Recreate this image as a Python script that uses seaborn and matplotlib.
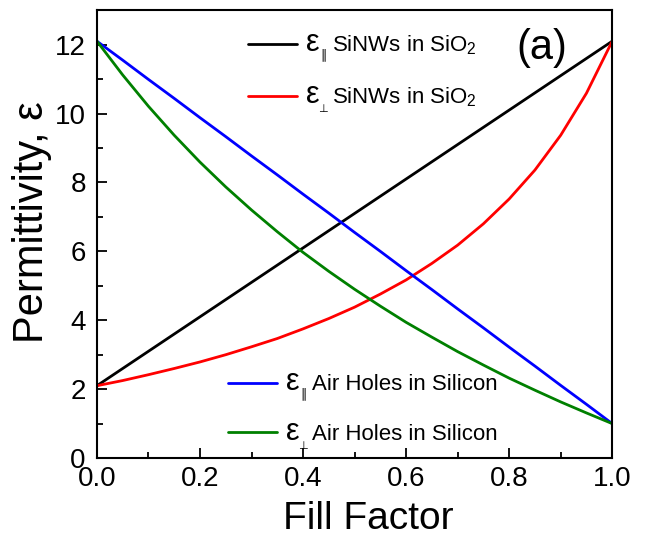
import numpy as np
import pandas as pd
import matplotlib
matplotlib.use("Agg")
import matplotlib.pyplot as plt
import seaborn as sns
from matplotlib.ticker import MultipleLocator, FormatStrFormatter

fill = [0.00, 0.05, 0.10, 0.15, 0.20, 0.25, 0.30, 0.35, 0.40, 0.45, 0.50,
        0.55, 0.60, 0.65, 0.70, 0.75, 0.80, 0.85, 0.90, 0.95, 1.00]
eps_par_nw = [2.10, 2.60, 3.10, 3.60, 4.10, 4.60, 5.10, 5.60, 6.10, 6.60, 7.10,
              7.60, 8.10, 8.60, 9.10, 9.60, 10.10, 10.60, 11.10, 11.60, 12.10]
eps_perp_nw = [2.10, 2.25, 2.42, 2.60, 2.79, 3.00, 3.23, 3.47, 3.75, 4.05, 4.38,
               4.76, 5.17, 5.65, 6.18, 6.80, 7.52, 8.36, 9.37, 10.59, 12.10]
eps_par_ah = [12.10, 11.55, 10.99, 10.44, 9.88, 9.33, 8.77, 8.22, 7.66, 7.11, 6.55,
              6.00, 5.44, 4.89, 4.33, 3.78, 3.22, 2.67, 2.11, 1.56, 1.00]
eps_perp_ah = [12.10, 11.12, 10.21, 9.37, 8.59, 7.87, 7.20, 6.57, 5.97, 5.42, 4.90,
               4.41, 3.94, 3.51, 3.09, 2.70, 2.32, 1.97, 1.63, 1.31, 1.00]

eps_subs = ["∥", "⊥", "∥", "⊥"]
labels = [r"SiNWs in SiO$_2$", r"SiNWs in SiO$_2$",
          "Air Holes in Silicon", "Air Holes in Silicon"]
colors = ["black", "red", "blue", "green"]

sns.set_style("ticks")
plt.rcParams["font.family"] = ["Liberation Sans", "DejaVu Sans"]
plt.rcParams["mathtext.fontset"] = "custom"
plt.rcParams["mathtext.rm"] = "Liberation Sans"
plt.rcParams["mathtext.it"] = "Liberation Sans"
plt.rcParams["text.color"] = "black"
plt.rcParams["axes.labelcolor"] = "black"
plt.rcParams["xtick.color"] = "black"
plt.rcParams["ytick.color"] = "black"

fig = plt.figure(figsize=(6.64, 5.37), dpi=100)
ax = fig.add_axes([0.146, 0.147, 0.776, 0.834])

series = [eps_par_nw, eps_perp_nw, eps_par_ah, eps_perp_ah]
for vals, lab, col in zip(series, labels, colors):
    df = pd.DataFrame({"f": fill, "e": vals})
    sns.lineplot(data=df, x="f", y="e", ax=ax, color=col, lw=2.0, label=lab)
handles, labs = ax.get_legend_handles_labels()
if ax.get_legend():
    ax.get_legend().remove()

kw = dict(frameon=False, fontsize=16, handlelength=2.2, labelspacing=1.27,
          handletextpad=1.6, borderaxespad=0, borderpad=0)
leg1 = ax.legend(handles[:2], labs[:2], loc="upper left",
                 bbox_to_anchor=(0.293, 0.948), **kw)
ax.add_artist(leg1)
leg2 = ax.legend(handles[2:], labs[2:], loc="lower left",
                 bbox_to_anchor=(0.254, 0.03), **kw)

ax.set_xlim(0, 1.0)
ax.set_ylim(0, 13)
ax.xaxis.set_major_locator(MultipleLocator(0.2))
ax.xaxis.set_minor_locator(MultipleLocator(0.1))
ax.yaxis.set_major_locator(MultipleLocator(2))
ax.yaxis.set_minor_locator(MultipleLocator(1))
ax.xaxis.set_major_formatter(FormatStrFormatter("%.1f"))
ax.tick_params(which="major", direction="in", length=7, width=1.3, labelsize=20)
ax.tick_params(axis="y", which="major", pad=8)
ax.tick_params(axis="x", which="major", pad=6)
ax.tick_params(which="minor", direction="in", length=4, width=1.3)
for s in ax.spines.values():
    s.set_linewidth(1.5)
    s.set_color("black")

ax.set_xlabel("Fill Factor", fontsize=28)
ax.set_ylabel("Permittivity, ε", fontsize=30)
ax.xaxis.set_label_coords(0.526, -0.096)
ax.yaxis.set_label_coords(-0.088, 0.527)
ax.text(0.864, 0.915, "(a)", transform=ax.transAxes, fontsize=30,
        ha="center", va="center")

# epsilon symbols with small subscripts in front of legend labels
fig.canvas.draw()
texts = list(leg1.get_texts()) + list(leg2.get_texts())
for t, sub in zip(texts, eps_subs):
    x0, y0 = t.get_transform().transform(t.get_position())
    fig.text(x0 - 13, y0, "ε", transform=None, fontsize=22,
             ha="right", va="baseline")
    if sub == "∥":
        fig.text(x0 - 12, y0 - 7, sub, transform=None, fontsize=9,
                 ha="left", va="baseline", family=["DejaVu Sans"])
    else:
        fig.text(x0 - 14, y0 - 9, sub, transform=None, fontsize=8,
                 ha="left", va="baseline", family=["DejaVu Sans"])

fig.savefig("out.png", dpi=100)
